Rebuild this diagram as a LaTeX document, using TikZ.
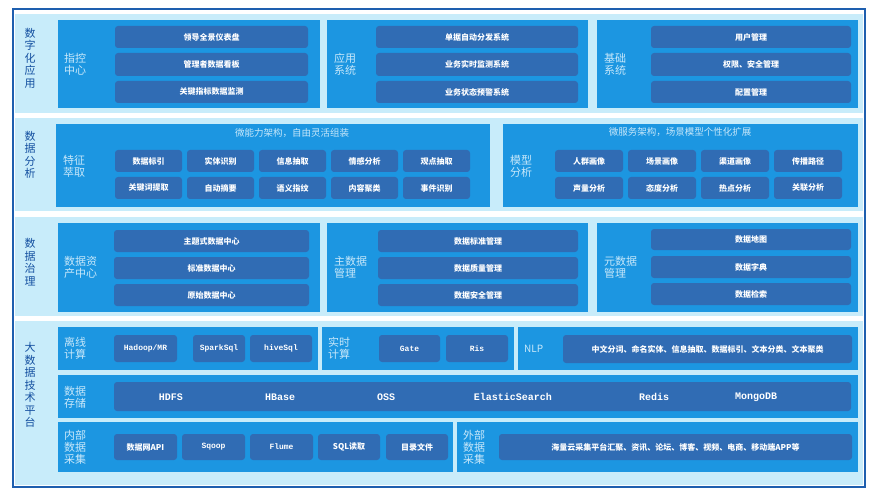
\documentclass[tikz,border=0pt]{standalone}
\usepackage{fontspec}
\setmainfont{Noto Sans CJK SC}
\setmonofont{Liberation Mono}
\definecolor{frame}{RGB}{30,95,175}
\definecolor{band}{RGB}{200,236,250}
\definecolor{panel}{RGB}{28,150,225}
\definecolor{itm}{RGB}{48,108,180}
\definecolor{lbl}{RGB}{200,232,250}
\definecolor{side}{RGB}{20,80,160}
\tikzset{
 itembox/.style={fill=itm,rounded corners=3pt,text=white,font=\bfseries\fontsize{8}{9}\selectfont,inner sep=0pt},
 panelbox/.style={fill=panel,inner sep=0pt},
 plabel/.style={text=lbl,font=\fontsize{11}{12}\selectfont,align=left,anchor=west,inner sep=0pt},
 slabel/.style={text=side,font=\fontsize{11}{12.5}\selectfont,align=center,inner sep=0pt},
 ttl/.style={text=lbl,font=\fontsize{9.5}{11}\selectfont,inner sep=0pt}
}
\newcommand\pnl[6]{\node[panelbox,minimum width={#4pt-#2pt},minimum height={#5pt-#3pt}] (#1) at ({(#2+#4)/2},{(#3+#5)/2}) {};}
\newcommand\itb[6]{\node[itembox,minimum width={#4pt-#2pt},minimum height={#5pt-#3pt}] (#1) at ({(#2+#4)/2},{(#3+#5)/2}) {#6};}
\begin{document}
\begin{tikzpicture}[x=1pt,y=-1pt]
\useasboundingbox (0,0) rectangle (876,500);
\node[draw=frame,line width=2pt,fill=white,minimum width=852pt,minimum height=478pt,inner sep=0pt] (outer) at (439,248) {};
% bands
\fill[band] (15,14) rectangle (863,113);
\fill[band] (15,118) rectangle (863,211);
\fill[band] (15,217) rectangle (863,316);
\fill[band] (15,321) rectangle (863,485);
% side labels
\node[slabel] (s1) at (30,58) {数\\字\\化\\应\\用};
\node[slabel] (s2) at (30,155) {数\\据\\分\\析};
\node[slabel] (s3) at (30,262) {数\\据\\治\\理};
\node[slabel] (s4) at (30,385) {大\\数\\据\\技\\术\\平\\台};
% row 1
\pnl{p11}{58}{20}{320}{108}{}
\pnl{p12}{327}{20}{588}{108}{}
\pnl{p13}{597}{20}{858}{108}{}
\node[plabel] (l11) at (64,64) {指控\\中心};
\node[plabel] (l12) at (334,64) {应用\\系统};
\node[plabel] (l13) at (604,64) {基础\\系统};
\itb{a1}{115}{26}{308}{48}{领导全景仪表盘}
\itb{a2}{115}{53}{308}{76}{管理者数据看板}
\itb{a3}{115}{81}{308}{103}{关键指标数据监测}
\itb{b1}{376}{26}{578}{48}{单据自动分发系统}
\itb{b2}{376}{53}{578}{76}{业务实时监测系统}
\itb{b3}{376}{81}{578}{103}{业务状态预警系统}
\itb{c1}{651}{26}{851}{48}{用户管理}
\itb{c2}{651}{53}{851}{76}{权限、安全管理}
\itb{c3}{651}{81}{851}{103}{配置管理}
% row 2
\pnl{p21}{56}{124}{490}{207}{}
\pnl{p22}{503}{124}{858}{207}{}
\node[ttl] (t21) at (292,133) {微能力架构，自由灵活组装};
\node[ttl] (t22) at (680,132) {微服务架构，场景模型个性化扩展};
\node[plabel] (l21) at (63,166) {特征\\萃取};
\node[plabel] (l22) at (510,166) {模型\\分析};
\itb{d1}{115}{150}{182}{172}{数据标引}
\itb{d2}{187}{150}{254}{172}{实体识别}
\itb{d3}{259}{150}{326}{172}{信息抽取}
\itb{d4}{331}{150}{398}{172}{情感分析}
\itb{d5}{403}{150}{470}{172}{观点抽取}
\itb{e1}{115}{177}{182}{199}{关键词提取}
\itb{e2}{187}{177}{254}{199}{自动摘要}
\itb{e3}{259}{177}{326}{199}{语义指纹}
\itb{e4}{331}{177}{398}{199}{内容聚类}
\itb{e5}{403}{177}{470}{199}{事件识别}
\itb{f1}{555}{150}{623}{172}{人群画像}
\itb{f2}{628}{150}{696}{172}{场景画像}
\itb{f3}{701}{150}{769}{172}{渠道画像}
\itb{f4}{774}{150}{842}{172}{传播路径}
\itb{g1}{555}{177}{623}{199}{声量分析}
\itb{g2}{628}{177}{696}{199}{态度分析}
\itb{g3}{701}{177}{769}{199}{热点分析}
\itb{g4}{774}{177}{842}{199}{关联分析}
% row 3
\pnl{p31}{58}{223}{320}{312}{}
\pnl{p32}{327}{223}{588}{312}{}
\pnl{p33}{597}{223}{858}{312}{}
\node[plabel] (l31) at (64,267) {数据资\\产中心};
\node[plabel] (l32) at (334,267) {主数据\\管理};
\node[plabel] (l33) at (604,267) {元数据\\管理};
\itb{h1}{114}{230}{309}{252}{主题式数据中心}
\itb{h2}{114}{257}{309}{279}{标准数据中心}
\itb{h3}{114}{284}{309}{306}{原始数据中心}
\itb{i1}{378}{230}{578}{252}{数据标准管理}
\itb{i2}{378}{257}{578}{279}{数据质量管理}
\itb{i3}{378}{284}{578}{306}{数据安全管理}
\itb{j1}{651}{229}{851}{250}{数据地图}
\itb{j2}{651}{256}{851}{278}{数据字典}
\itb{j3}{651}{283}{851}{305}{数据检索}
% row 4
\pnl{p41}{58}{327}{318}{370}{}
\pnl{p42}{322}{327}{514}{370}{}
\pnl{p43}{518}{327}{858}{370}{}
\node[plabel] (l41) at (64,348) {离线\\计算};
\node[plabel] (l42) at (328,348) {实时\\计算};
\node[plabel,font=\fontsize{10}{12}\selectfont] (l43) at (524,349) {NLP};
\itb{k1}{114}{335}{177}{362}{\ttfamily Hadoop/MR}
\itb{k2}{193}{335}{245}{362}{\ttfamily SparkSql}
\itb{k3}{250}{335}{312}{362}{\ttfamily hiveSql}
\itb{k4}{379}{335}{440}{362}{\ttfamily Gate}
\itb{k5}{446}{335}{508}{362}{\ttfamily Ris}
\itb{k6}{563}{335}{852}{363}{中文分词、命名实体、信息抽取、数据标引、文本分类、文本聚类}
\pnl{p44}{58}{375}{858}{418}{}
\node[plabel] (l44) at (64,397) {数据\\存储};
\itb{m}{114}{382}{851}{411}{}
\foreach \t/\xx in {HDFS/171,HBase/280,OSS/386,ElasticSearch/513,Redis/654,MongoDB/756}
  \node[text=white,font=\ttfamily\bfseries\fontsize{10}{11}\selectfont,inner sep=0pt] at (\xx,397) {\t};
\pnl{p45}{58}{422}{453}{472}{}
\pnl{p46}{457}{422}{858}{472}{}
\node[plabel] (l45) at (64,447) {内部\\数据\\采集};
\node[plabel] (l46) at (463,447) {外部\\数据\\采集};
\itb{n1}{114}{434}{177}{460}{数据网API}
\itb{n2}{182}{434}{245}{460}{\ttfamily Sqoop}
\itb{n3}{250}{434}{313}{460}{\ttfamily Flume}
\itb{n4}{318}{434}{380}{460}{SQL读取}
\itb{n5}{386}{434}{448}{460}{目录文件}
\itb{n6}{499}{434}{852}{460}{海量云采集平台汇聚、资讯、论坛、博客、视频、电商、移动端APP等}
\end{tikzpicture}
\end{document}
